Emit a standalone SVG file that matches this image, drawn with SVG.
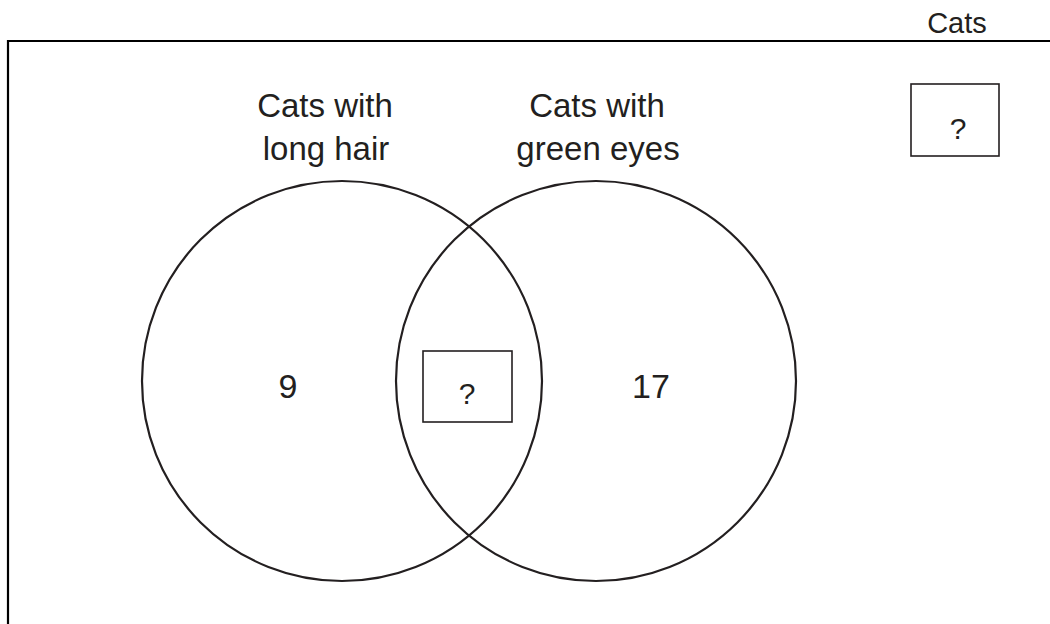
<svg xmlns="http://www.w3.org/2000/svg" width="1050" height="624" viewBox="0 0 1050 624">
  <style>
    .t { font-family: "Liberation Sans", Arial, sans-serif; fill: #231f20; text-anchor: middle; }
    .lbl { font-size: 33px; }
    .num { font-size: 34px; }
    .q { font-size: 30px; }
    .ring { fill: none; stroke: #231f20; stroke-width: 2.2; }
    .box { fill: none; stroke: #231f20; stroke-width: 1.6; }
  </style>
  <rect width="1050" height="624" fill="#ffffff"/>
  <g id="frame">
    <polyline points="8,624 8,41 1050,41" fill="none" stroke="#000000" stroke-width="2.2"/>
    <text class="t" x="957" y="33" style="font-size:29px">Cats</text>
  </g>
  <g id="set-long-hair">
    <circle class="ring" cx="342" cy="381" r="200"/>
    <text class="t lbl" x="325" y="117">Cats with</text>
    <text class="t lbl" x="326" y="160">long hair</text>
    <text class="t num" x="288" y="398">9</text>
  </g>
  <g id="set-green-eyes">
    <circle class="ring" cx="596" cy="381" r="200"/>
    <text class="t lbl" x="597" y="117">Cats with</text>
    <text class="t lbl" x="598" y="160">green eyes</text>
    <text class="t num" x="651" y="398">17</text>
  </g>
  <g id="intersection">
    <rect class="box" x="423" y="351" width="89" height="71"/>
    <text class="t q" x="467" y="404">?</text>
  </g>
  <g id="outside">
    <rect class="box" x="911" y="84" width="88" height="72"/>
    <text class="t q" x="958" y="139">?</text>
  </g>
</svg>
